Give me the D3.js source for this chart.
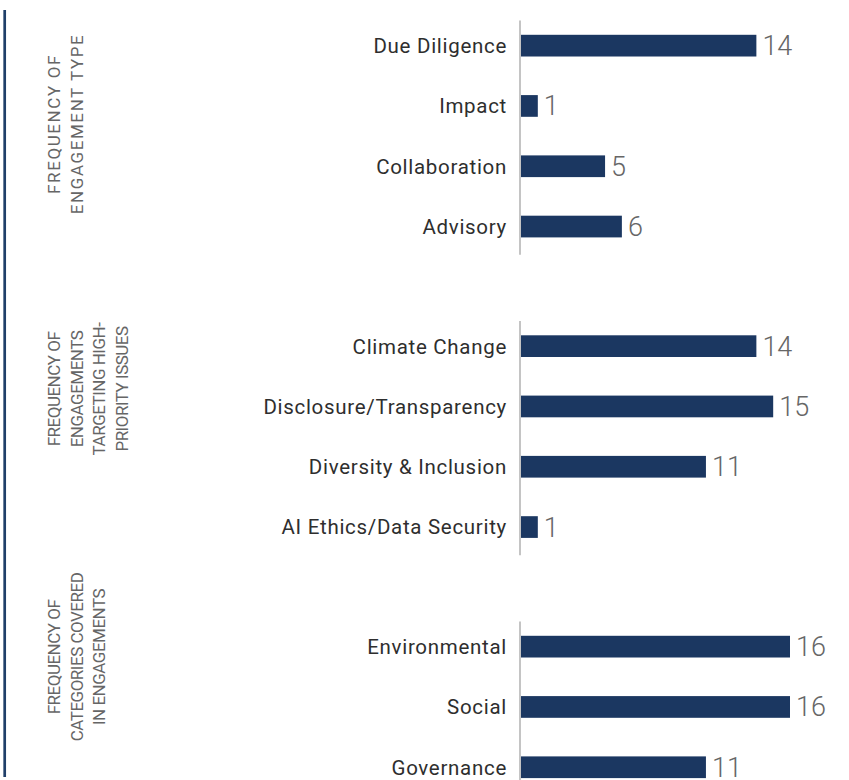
<!DOCTYPE html>
<html>
<head>
<meta charset="utf-8">
<script src="https://cdn.jsdelivr.net/npm/d3@7"></script>
<style>
  html, body { margin: 0; padding: 0; background: #fff; }
  svg { display: block; }
</style>
</head>
<body>
<svg id="chart"></svg>
<script>
// Engagement type
const typeCategories = ['Due Diligence', 'Impact', 'Collaboration', 'Advisory'];
const typeValues = [14, 1, 5, 6];

// High-priority issues
const issueCategories = ['Climate Change', 'Disclosure/Transparency', 'Diversity & Inclusion', 'AI Ethics/Data Security'];
const issueValues = [14, 15, 11, 1];

// ESG categories
const esgCategories = ['Environmental', 'Social', 'Governance'];
const esgValues = [16, 16, 11];

const panelTitles = [
  ['FREQUENCY OF', 'ENGAGEMENT TYPE'],
  ['FREQUENCY OF', 'ENGAGEMENTS', 'TARGETING HIGH-', 'PRIORITY ISSUES'],
  ['FREQUENCY OF', 'CATEGORIES COVERED', 'IN ENGAGEMENTS']
];

const width = 849;
const height = 780;
const barColor = '#1b3761';
const step = 60.3;

const svg = d3.select('#chart')
  .attr('width', width)
  .attr('height', height)
  .attr('viewBox', `0 0 ${width} ${height}`);

// shared value scale
const x = d3.scaleLinear().domain([0, 16]).range([521, 790]);

// left accent rule
svg.append('line')
  .attr('x1', 4.7).attr('x2', 4.7)
  .attr('y1', 10).attr('y2', 777)
  .attr('stroke', '#203f69')
  .attr('stroke-width', 2.7);

const panels = [
  { cats: typeCategories, vals: typeValues, top: 15.5, title: panelTitles[0], titleY: 124, spacing: 1.6 },
  { cats: issueCategories, vals: issueValues, top: 316, title: panelTitles[1], titleY: 389, spacing: -0.5 },
  { cats: esgCategories, vals: esgValues, top: 616.5, title: panelTitles[2], titleY: 657, spacing: -0.5 }
];

panels.forEach(p => {
  const data = p.cats.map((c, i) => ({ cat: c, val: p.vals[i] }));
  const y = d3.scaleBand()
    .domain(p.cats)
    .range([p.top, p.top + step * p.cats.length])
    .paddingInner(0.64)
    .paddingOuter(0.32);

  const g = svg.append('g');

  // category axis (labels only, custom rule below)
  const axis = g.append('g')
    .attr('transform', `translate(${x(0)},0)`)
    .call(d3.axisLeft(y).tickSize(0).tickPadding(14));
  axis.select('.domain').remove();
  axis.selectAll('text')
    .attr('font-family', 'Roboto, sans-serif')
    .attr('font-size', '20.5px')
    .attr('letter-spacing', '0.7px')
    .attr('fill', '#2e2e2e')
    .attr('dy', '0.36em');

  const [r0, r1] = y.range();
  g.append('line')
    .attr('x1', x(0) - 1).attr('x2', x(0) - 1)
    .attr('y1', r0 + 5).attr('y2', Math.min(r1 - 2, 782))
    .attr('stroke', '#c4c4c4')
    .attr('stroke-width', 2);

  // bars
  g.selectAll('.bar')
    .data(data)
    .join('rect')
    .attr('class', 'bar')
    .attr('x', x(0))
    .attr('y', d => y(d.cat))
    .attr('width', d => x(d.val) - x(0))
    .attr('height', y.bandwidth())
    .attr('fill', barColor);

  // value labels
  g.selectAll('.val')
    .data(data)
    .join('text')
    .attr('class', 'val')
    .attr('x', d => x(d.val) + 6)
    .attr('y', d => y(d.cat) + y.bandwidth() / 2 + 9.5)
    .attr('font-family', 'Roboto, sans-serif')
    .attr('font-weight', 300)
    .attr('font-size', '27px')
    .attr('fill', '#666')
    .text(d => d.val);

  // rotated panel title
  const lineGap = 22.5;
  const t = g.append('text')
    .attr('transform', `translate(0,${p.titleY}) rotate(-90)`)
    .attr('text-anchor', 'middle')
    .attr('font-family', 'Roboto, sans-serif')
    .attr('font-size', '17px')
    .attr('letter-spacing', p.spacing + 'px')
    .attr('fill', '#666');
  p.title.forEach((line, i) => {
    t.append('tspan')
      .attr('x', 0)
      .attr('y', 60 + i * lineGap)
      .text(line);
  });
});
</script>
</body>
</html>
